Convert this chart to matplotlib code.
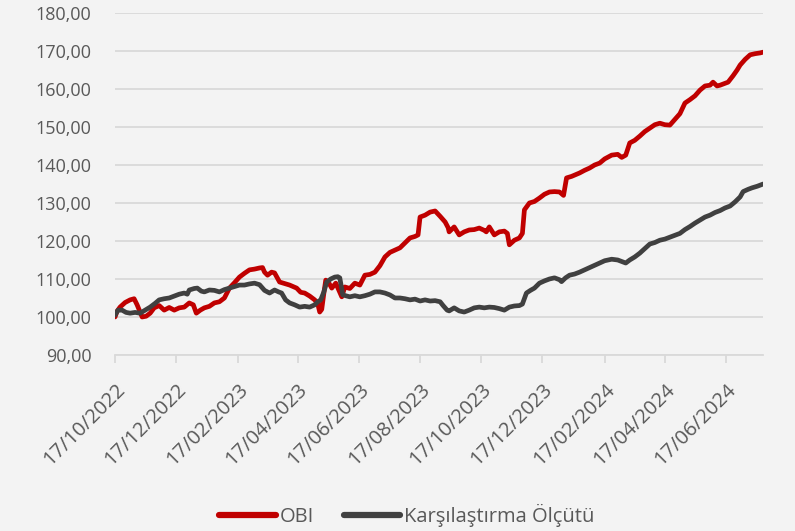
import matplotlib
matplotlib.use("Agg")
import matplotlib.pyplot as plt
import matplotlib.dates as mdates
from matplotlib.ticker import FuncFormatter
import pandas as pd

plt.rcParams['font.family'] = ['Open Sans', 'DejaVu Sans']

start_date = '2022-10-17'

# days after start_date
obi_days = [0, 2, 5, 10, 15, 19, 22, 27, 31, 35,
            39, 44, 49, 54, 59, 64, 69, 74, 78, 81,
            85, 89, 94, 99, 104, 109, 114, 119, 124, 129,
            134, 139, 144, 147, 149, 152, 156, 159, 164, 169,
            174, 181, 185, 189, 194, 199, 202, 204, 206, 208,
            210, 213, 216, 220, 224, 226, 229, 234, 239, 244,
            249, 254, 259, 264, 269, 274, 279, 284, 289, 294,
            299, 302, 304, 309, 314, 319, 324, 329, 332, 333,
            338, 343, 348, 353, 358, 363, 368, 370, 373, 378,
            383, 388, 391, 393, 398, 403, 406, 408, 413, 418,
            423, 428, 433, 438, 443, 447, 450, 455, 463, 468,
            473, 478, 483, 488, 495, 501, 505, 509, 513, 518,
            523, 528, 533, 538, 543, 548, 553, 558, 563, 568,
            573, 578, 583, 588, 593, 596, 600, 603, 608, 611,
            616, 620, 623, 628, 633, 638, 643, 646]
obi_values = [100.0, 101.5, 102.6, 103.8, 104.5, 104.8, 103.2, 100.0, 100.2, 101.0,
              102.4, 103.0, 101.8, 102.5, 101.8, 102.4, 102.6, 103.7, 103.2, 101.0,
              101.8, 102.4, 102.8, 103.7, 104.0, 105.0, 107.6, 109.0, 110.5, 111.5,
              112.4, 112.6, 112.9, 113.0, 111.8, 111.0, 111.8, 111.6, 109.2, 108.8,
              108.4, 107.6, 106.5, 106.3, 105.5, 104.5, 103.5, 101.3, 102.0, 106.0,
              109.7, 109.0, 107.6, 108.9, 106.5, 105.3, 107.9, 107.5, 108.9, 108.4,
              111.0, 111.2, 111.8, 113.5, 115.8, 117.0, 117.6, 118.2, 119.5, 120.8,
              121.2, 121.6, 126.3, 126.8, 127.6, 127.9, 126.5, 125.0, 123.5, 122.4,
              123.7, 121.6, 122.4, 122.9, 123.0, 123.4, 122.8, 122.4, 123.7, 121.6,
              122.4, 122.6, 122.0, 119.0, 120.2, 120.8, 122.0, 128.2, 130.0, 130.4,
              131.3, 132.3, 132.9, 133.0, 132.9, 132.0, 136.6, 137.0, 137.9, 138.6,
              139.2, 140.0, 140.5, 141.6, 142.6, 142.8, 142.0, 142.6, 145.8, 146.5,
              147.6, 148.8, 149.7, 150.6, 151.0, 150.6, 150.5, 152.0, 153.5, 156.3,
              157.2, 158.2, 159.7, 160.8, 161.0, 161.8, 160.8, 161.0, 161.5, 161.8,
              163.5, 165.0, 166.3, 167.8, 169.0, 169.3, 169.5, 169.7]

bench_days = [0, 3, 7, 11, 15, 20, 25, 30, 35, 40,
              44, 49, 54, 59, 64, 69, 72, 74, 79, 82,
              86, 89, 94, 99, 104, 109, 114, 119, 124, 129,
              134, 139, 144, 146, 149, 154, 159, 163, 166, 170,
              174, 179, 184, 189, 194, 199, 202, 205, 208, 211,
              215, 219, 222, 224, 227, 231, 234, 239, 244, 249,
              254, 259, 264, 269, 274, 279, 284, 289, 294, 299,
              304, 309, 314, 319, 324, 327, 331, 333, 338, 343,
              348, 353, 358, 363, 368, 373, 378, 383, 388, 393,
              398, 403, 406, 410, 414, 418, 423, 428, 433, 438,
              443, 445, 449, 453, 458, 463, 468, 473, 478, 483,
              488, 495, 501, 505, 509, 513, 518, 523, 528, 533,
              538, 543, 548, 553, 558, 563, 568, 573, 578, 583,
              588, 593, 598, 603, 608, 613, 618, 623, 626, 631,
              635, 640, 646]
bench_values = [100.5, 101.8, 101.8, 101.2, 101.0, 101.2, 101.0, 101.8, 102.6, 103.6,
                104.5, 104.8, 105.0, 105.5, 106.0, 106.3, 106.0, 107.1, 107.5, 107.6,
                106.8, 106.6, 107.1, 107.0, 106.6, 107.2, 107.6, 108.0, 108.4, 108.4,
                108.7, 108.9, 108.5, 107.9, 107.0, 106.3, 107.1, 106.6, 106.3, 104.5,
                103.7, 103.2, 102.6, 102.8, 102.6, 103.2, 104.0, 104.5, 106.5, 109.2,
                110.0, 110.5, 110.6, 110.3, 105.8, 105.5, 105.3, 105.6, 105.3, 105.6,
                106.0, 106.6, 106.6, 106.3, 105.8, 105.0, 105.0, 104.8, 104.5, 104.7,
                104.2, 104.5, 104.2, 104.3, 104.0, 103.0, 101.8, 101.6, 102.4, 101.6,
                101.3, 101.8, 102.4, 102.6, 102.4, 102.6, 102.5, 102.2, 101.8, 102.6,
                102.9, 103.0, 103.4, 106.3, 107.0, 107.6, 108.9, 109.5, 110.0, 110.3,
                109.8, 109.3, 110.3, 111.0, 111.3, 111.8, 112.4, 113.0, 113.6, 114.2,
                114.8, 115.2, 115.0, 114.6, 114.2, 115.0, 115.8, 116.8, 118.0, 119.2,
                119.6, 120.2, 120.5, 121.0, 121.5, 122.0, 123.0, 123.8, 124.7, 125.5,
                126.3, 126.8, 127.5, 128.0, 128.7, 129.2, 130.3, 131.6, 133.0, 133.6,
                134.0, 134.4, 135.0]

x_ticks = ['2022-10-17', '2022-12-17', '2023-02-17', '2023-04-17', '2023-06-17',
           '2023-08-17', '2023-10-17', '2023-12-17', '2024-02-17', '2024-04-17',
           '2024-06-17']

t0 = pd.Timestamp(start_date)
obi_dates = [t0 + pd.Timedelta(days=d) for d in obi_days]
bench_dates = [t0 + pd.Timedelta(days=d) for d in bench_days]

bg = '#f3f3f3'
fig = plt.figure(figsize=(7.95, 5.31), dpi=100, facecolor=bg)
ax = fig.add_axes([0.1447, 0.3315, 0.8153, 0.644])
ax.set_facecolor(bg)

ax.plot(obi_dates, obi_values, color='#c00000', lw=3.4, label='OBI',
        solid_joinstyle='round', solid_capstyle='round', zorder=3)
ax.plot(bench_dates, bench_values, color='#404040', lw=3.4,
        label='Karşılaştırma Ölçütü', solid_joinstyle='round',
        solid_capstyle='round', zorder=3)

ax.set_ylim(90, 180)
ax.set_yticks(range(90, 181, 10))
ax.yaxis.set_major_formatter(FuncFormatter(lambda v, p: f'{v:.2f}'.replace('.', ',')))
ax.set_xlim(t0, max(obi_dates[-1], bench_dates[-1]))
ax.set_xticks([pd.Timestamp(t) for t in x_ticks])
ax.xaxis.set_major_formatter(mdates.DateFormatter('%d/%m/%Y'))

ax.grid(axis='y', color='#d9d9d9', lw=1.3)
ax.set_axisbelow(True)
for s in ['top', 'right', 'left']:
    ax.spines[s].set_visible(False)
ax.spines['bottom'].set_color('#d9d9d9')
ax.spines['bottom'].set_linewidth(1.3)

ax.tick_params(axis='y', length=0, labelsize=13, labelcolor='#595959', pad=17)
ax.tick_params(axis='x', length=6, width=1.3, color='#d9d9d9', labelsize=14.5,
               labelcolor='#595959', pad=12)
for lbl in ax.get_xticklabels():
    lbl.set_rotation(45)
    lbl.set_ha('right')
    lbl.set_va('top')
    lbl.set_rotation_mode('anchor')

fig.legend(loc='center', bbox_to_anchor=(0.512, 0.03), ncol=2, frameon=False,
           fontsize=14.5, labelcolor='#595959', handlelength=2.8, handletextpad=0.2,
           columnspacing=1.5, borderaxespad=0)
for line in fig.legends[0].get_lines():
    line.set_linewidth(4.5)

fig.savefig('out.png', dpi=100, facecolor=bg)
